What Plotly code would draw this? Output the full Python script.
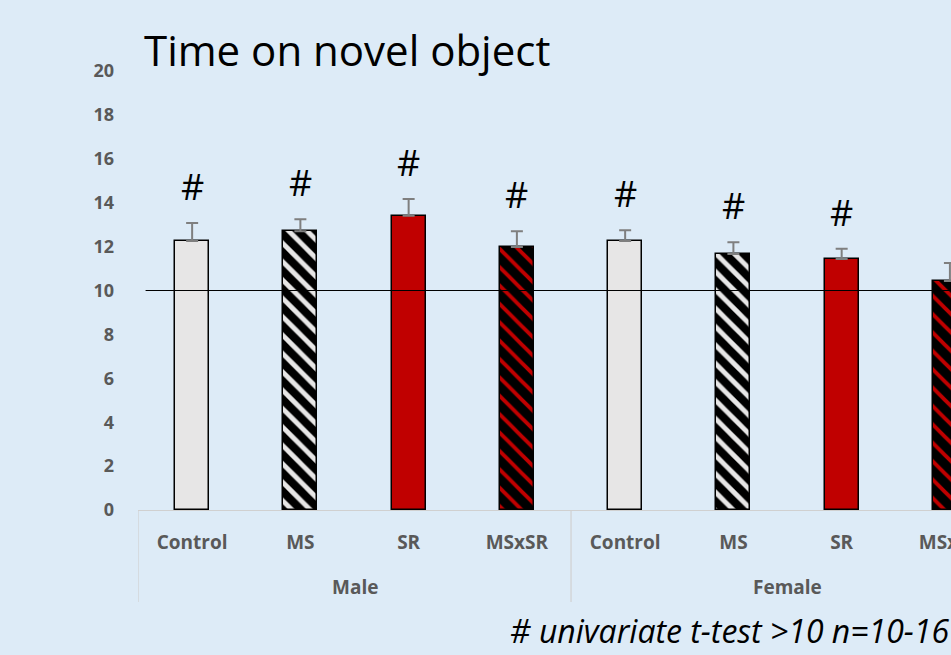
import plotly.graph_objects as go

groups = ["Male", "Female"]
conditions = ["Control", "MS", "SR", "MSxSR"]
means = [12.25, 12.7, 13.4, 11.98, 12.25, 11.66, 11.43, 10.43]
sems = [0.82, 0.55, 0.77, 0.72, 0.5, 0.54, 0.47, 0.82]
significant = [True, True, True, True, True, True, True, False]
y_ticks = [0, 2, 4, 6, 8, 10, 12, 14, 16, 18, 20]

BG = "#ddebf7"
FONT = "Open Sans"
W, H = 951, 655
L, T, B = 138, 71, 145
plot_h = H - T - B

styles = {
    "Control": dict(color="#e7e6e6"),
    "MS": dict(color="black", pattern=dict(shape="\\", bgcolor="#e7e6e6", fgcolor="black",
                                           size=13, solidity=0.62, fillmode="replace")),
    "SR": dict(color="#c00000"),
    "MSxSR": dict(color="black", pattern=dict(shape="\\", bgcolor="black", fgcolor="#c00000",
                                              size=13, solidity=0.3, fillmode="replace")),
}

fig = go.Figure()
n = len(conditions)
for k, cond in enumerate(conditions):
    idx = [g * n + k for g in range(len(groups))]
    fig.add_trace(go.Bar(
        x=idx,
        y=[means[i] for i in idx],
        width=0.315,
        marker=dict(line=dict(color="black", width=1.5), **styles[cond]),
        error_y=dict(type="data", symmetric=False, array=[sems[i] for i in idx],
                     arrayminus=[0] * len(idx), color="#7f7f7f", thickness=2, width=6),
        showlegend=False,
        hoverinfo="skip",
    ))

# reference line at 10
fig.add_shape(type="line", xref="x", yref="y", x0=-0.43, x1=8, y0=10, y1=10,
              line=dict(color="black", width=1.2), layer="above")

# significance marks
for i, (m, s, sig) in enumerate(zip(means, sems, significant)):
    if sig:
        fig.add_annotation(x=i, y=m + s, text="#", showarrow=False, yanchor="bottom",
                           yshift=10, font=dict(family=FONT, size=36, color="black"))

# group dividers and labels
for g, name in enumerate(groups):
    x0 = g * n - 0.5
    fig.add_shape(type="line", xref="x", yref="paper", x0=x0, x1=x0, y0=0, y1=-92 / plot_h,
                  line=dict(color="#d0d0d0", width=1.2))
    fig.add_annotation(x=x0 + n / 2, y=-77 / plot_h, xref="x", yref="paper", text=name,
                       showarrow=False, yanchor="middle",
                       font=dict(family=FONT, size=19, color="#595959", weight="bold"))

fig.add_annotation(x=(142 - L) / (W - L), y=1 + (T - 50) / plot_h, xref="paper", yref="paper",
                   text="Time on novel object", showarrow=False, xanchor="left", yanchor="middle",
                   font=dict(family=FONT, size=42, color="black"))

fig.add_annotation(x=1.0, y=-(630 - (H - B)) / plot_h, xref="paper", yref="paper",
                   text="<i># univariate t-test >10 n=10-16</i>", showarrow=False,
                   xanchor="right", yanchor="middle",
                   font=dict(family=FONT, size=32, color="black"))

fig.update_layout(
    width=W, height=H,
    margin=dict(l=L, r=0, t=T, b=B, autoexpand=False),
    paper_bgcolor=BG, plot_bgcolor=BG,
    bargap=0, barmode="overlay",
    xaxis=dict(
        range=[-0.5, 7.01], automargin=False,
        tickvals=list(range(len(means))),
        ticktext=[c for g in groups for c in conditions],
        tickfont=dict(family=FONT, size=19, color="#595959", weight="bold"),
        showline=True, linecolor="#d0d0d0", linewidth=1.2,
        showgrid=False, zeroline=False, ticks="", ticklabelstandoff=15,
        ticklabeloverflow="allow",
    ),
    yaxis=dict(
        range=[0, 20], tickvals=y_ticks, automargin=False,
        tickfont=dict(family=FONT, size=18, color="#595959", weight="bold"),
        showgrid=False, zeroline=False, showline=False, ticklabelstandoff=23,
    ),
)

fig.write_html("out.html", config={"displayModeBar": False},
               post_script="document.body.style.margin='0';")
